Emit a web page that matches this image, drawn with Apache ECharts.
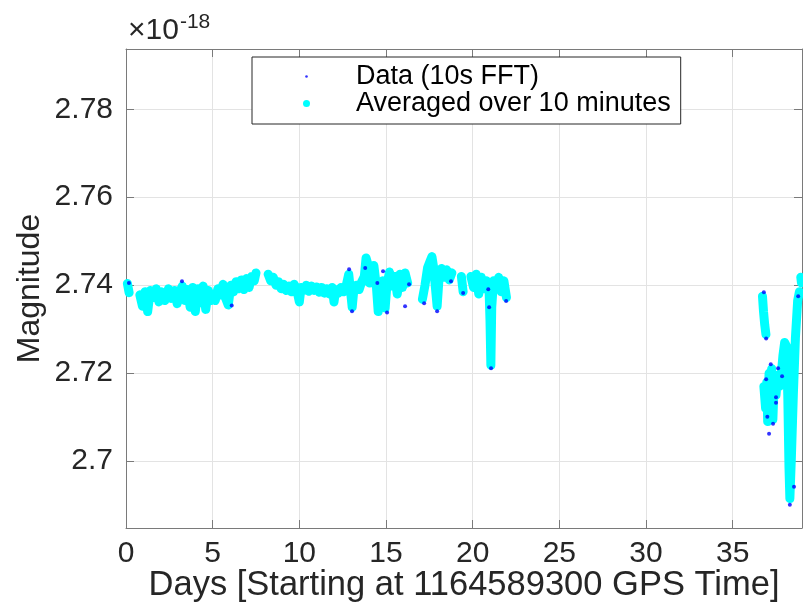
<!DOCTYPE html>
<html>
<head>
<meta charset="utf-8">
<title>Magnitude vs days</title>
<script src="https://cdn.jsdelivr.net/npm/echarts@6/dist/echarts.min.js"></script>
<style>
  html, body { margin: 0; padding: 0; background: #fff; }
  #chart { width: 803px; height: 607px; }
</style>
</head>
<body>
<div id="chart"></div>
<script>
// days since start, magnitude in units of 1e-18 ; null = gap in the record
const avgDays = [
  0.08, 0.18, null,
  0.8, 0.95, 1.1, 1.25, 1.4, 1.6, 1.75, 1.9, 2.05, 2.25, 2.45, 2.6, 2.8, 2.95, 3.1, 3.25, 3.4, 3.55,
  3.7, 3.85, 4.0, 4.15, 4.3, 4.45, 4.6, 4.75, 4.9, null,
  5.15, 5.3, 5.45, 5.6, 5.75, 5.9, 6.05, 6.2, 6.35, 6.5, 6.65, 6.8, 6.95, 7.1, 7.25, 7.4, 7.5, null,
  8.2, 8.35, 8.5, 8.65, 8.8, 8.95, 9.1, 9.25, 9.4, 9.55, 9.7, 9.85, 10.0, 10.1, 10.25, 10.4, 10.55,
  10.7, 10.85, 11.0, 11.15, 11.3, 11.45, 11.6, 11.75, 11.9, 12.0, 12.1, 12.25, 12.4, 12.55, 12.7,
  12.85, 12.95, 13.05, 13.15, 13.3, 13.45, 13.6, 13.75, 13.85, 13.95, 14.05, 14.15, 14.3, 14.45,
  14.55, 14.65, 14.8, 14.95, 15.05, 15.2, 15.35, 15.5, 15.65, 15.8, 15.95, 16.1, 16.25, null,
  17.1, 17.25, 17.4, 17.55, 17.65, 17.75, 17.85, 17.95, 18.05, 18.2, 18.35, 18.5, 18.65, 18.8, null,
  19.35, 19.45, null,
  19.9, 20.05, 20.2, 20.35, 20.5, 20.65, 20.8, 20.95, 21.0, 21.05, 21.1, 21.2, 21.35, 21.5, 21.65,
  21.8, 21.95, null,
  36.72, 36.78, 36.85, 36.92, null,
  36.8, 36.9, 36.97, 37.02, 37.1, 37.17, 37.25, 37.32, 37.4, 37.5, 37.6, 37.7, 37.8, 37.9, 38.0,
  38.1, 38.18, 38.25, 38.3, 38.38, 38.5, 38.62, 38.75, 38.85, null,
  38.93, 38.97
];
const avgMag = [
  2.7404, 2.7383, null,
  2.7378, 2.7352, 2.7385, 2.7340, 2.7388, 2.7372, 2.7392, 2.7362, 2.7385, 2.7365, 2.7392, 2.7370, 2.7388, 2.7358, 2.7385, 2.7398, 2.7365, 2.7390,
  2.7350, 2.7395, 2.7340, 2.7392, 2.7360, 2.7398, 2.7345, 2.7388, 2.7365, null,
  2.7365, 2.7392, 2.7378, 2.7402, 2.7370, 2.7355, 2.7400, 2.7385, 2.7408, 2.7392, 2.7412, 2.7390, 2.7415, 2.7395, 2.7420, 2.7410, 2.7428, null,
  2.7425, 2.7410, 2.7418, 2.7400, 2.7408, 2.7392, 2.7402, 2.7388, 2.7398, 2.7385, 2.7402, 2.7390, 2.7362, 2.7395, 2.7388, 2.7400, 2.7386,
  2.7398, 2.7388, 2.7396, 2.7384, 2.7395, 2.7382, 2.7392, 2.7380, 2.7395, 2.7362, 2.7390, 2.7382, 2.7395, 2.7385, 2.7398,
  2.7425, 2.7388, 2.7350, 2.7392, 2.7400, 2.7390, 2.7408, 2.7420, 2.7462, 2.7448, 2.7405, 2.7430, 2.7445, 2.7395,
  2.7340, 2.7395, 2.7410, 2.7348, 2.7400, 2.7430, 2.7398, 2.7420, 2.7380, 2.7425, 2.7395, 2.7428, 2.7405, null,
  2.7368, 2.7400, 2.7440, 2.7455, 2.7465, 2.7440, 2.7395, 2.7352, 2.7410, 2.7438, 2.7418, 2.7435, 2.7412, 2.7428, null,
  2.7420, 2.7385, null,
  2.7420, 2.7395, 2.7425, 2.7380, 2.7418, 2.7392, 2.7410, 2.7385, 2.7320, 2.7218, 2.7350, 2.7410, 2.7395, 2.7418, 2.7385,
  2.7410, 2.7372, null,
  2.7375, 2.7340, 2.7310, 2.7288, null,
  2.7170, 2.7120, 2.7180, 2.7090, 2.7200, 2.7125, 2.7210, 2.7095, 2.7185, 2.7150, 2.7195, 2.7170, 2.7195, 2.7240, 2.7270,
  2.7262, 2.7150, 2.6985, 2.6915, 2.7000, 2.7150, 2.7280, 2.7365, 2.7385, null,
  2.7418, 2.7405
];

// raw 10 s FFT points that poke out from under the averaged trace
const rawDays = [
  0.17, 3.23, 6.1, 12.87, 13.04, 13.8, 14.5, 14.83, 15.06, 16.1, 16.33, 17.2, 17.95, 18.75,
  19.45, 20.9, 20.95, 21.06, 21.93,
  36.8, 36.93, 37.2, 36.93, 37.62, 37.85, 37.5, 37.5, 37.33, 37.1, 37.0, 38.3, 38.78, 38.54
];
const rawMag = [
  2.7405, 2.7409, 2.7354, 2.7436, 2.7341, 2.7439, 2.7405, 2.7432, 2.7338, 2.7352, 2.7402, 2.7359, 2.7341, 2.7409,
  2.7382, 2.7391, 2.7350, 2.7211, 2.7364,
  2.7384, 2.7279, 2.7220, 2.7186, 2.7211, 2.7193, 2.7145, 2.7133, 2.7085, 2.7062, 2.7101, 2.6901, 2.7375, 2.6942
];

const xTicks = { min: 0, max: 39, interval: 5 };
const yRange = { min: 2.6848, max: 2.7937 };

const avgData = avgDays.map((d, i) => avgMag[i] === null ? ['-', '-'] : [d, avgMag[i]]);
const rawData = rawDays.map((d, i) => [d, rawMag[i]]);

const FONT = '"Liberation Sans", Arial, Helvetica, sans-serif';
const TXT = '#262626';
const AX = '#7a7a7a';
const GRIDC = '#e3e3e3';

// small dot inside a wider invisible box so the legend draws it tiny
const SMALL_DOT = 'path://M0,0M8,8M2.5,4a1.5,1.5 0 1,0 3,0a1.5,1.5 0 1,0 -3,0z';

const chart = echarts.init(document.getElementById('chart'), null, { renderer: 'canvas' });

const option = {
  animation: false,
  backgroundColor: '#ffffff',
  textStyle: { fontFamily: FONT },
  grid: { left: 126, right: 1, top: 49, bottom: 79, containLabel: false, outerBoundsMode: 'none' },
  legend: {
    orient: 'vertical',
    left: 252,
    top: 57,
    padding: [6, 10, 7, 51],
    itemGap: 0,
    itemWidth: 7,
    itemHeight: 7,
    backgroundColor: '#ffffff',
    borderColor: '#262626',
    borderWidth: 1,
    borderRadius: 0,
    textStyle: { fontFamily: FONT, fontSize: 27, color: '#000', lineHeight: 25, padding: [0, 0, 0, 41] },
    data: [
      { name: 'Data (10s FFT)', icon: SMALL_DOT },
      { name: 'Averaged over 10 minutes', icon: 'circle' }
    ]
  },
  xAxis: [{
    type: 'value',
    min: xTicks.min, max: xTicks.max, interval: xTicks.interval,
    name: 'Days [Starting at 1164589300 GPS Time]',
    nameLocation: 'middle',
    nameGap: 40,
    nameMoveOverlap: false,
    nameTextStyle: { fontFamily: FONT, fontSize: 34.5, color: TXT },
    axisLine: { show: true, lineStyle: { color: AX, width: 1 } },
    axisTick: { show: true, inside: true, length: 8, lineStyle: { color: AX } },
    axisLabel: { fontFamily: FONT, fontSize: 30, color: TXT, margin: 11, showMaxLabel: false },
    splitLine: { show: true, lineStyle: { color: GRIDC, width: 1 } }
  }, {
    type: 'value', position: 'top',
    min: xTicks.min, max: xTicks.max, interval: xTicks.interval,
    axisLine: { show: true, onZero: false, lineStyle: { color: AX, width: 1 } },
    axisTick: { show: true, inside: true, length: 8, lineStyle: { color: AX } },
    axisLabel: { show: false },
    splitLine: { show: false }
  }],
  yAxis: [{
    type: 'value',
    min: yRange.min, max: yRange.max, splitNumber: 5,
    name: 'Magnitude',
    nameLocation: 'middle',
    nameGap: 80,
    nameMoveOverlap: false,
    nameTextStyle: { fontFamily: FONT, fontSize: 32, color: TXT },
    axisLine: { show: true, lineStyle: { color: AX, width: 1 } },
    axisTick: { show: true, inside: true, length: 8, lineStyle: { color: AX } },
    axisLabel: { fontFamily: FONT, fontSize: 30, color: TXT, margin: 13, showMinLabel: false, showMaxLabel: false },
    splitLine: { show: true, lineStyle: { color: GRIDC, width: 1 } }
  }, {
    type: 'value', position: 'right',
    min: yRange.min, max: yRange.max, splitNumber: 5,
    axisLine: { show: true, onZero: false, lineStyle: { color: AX, width: 1 } },
    axisTick: { show: true, inside: true, length: 8, lineStyle: { color: AX } },
    axisLabel: { show: false },
    splitLine: { show: false }
  }],
  graphic: [{
    type: 'text',
    left: 128,
    top: 12,
    style: {
      text: '{b|×10}{s|-18}',
      rich: {
        b: { fontFamily: FONT, fontSize: 30, fill: TXT, verticalAlign: 'bottom', lineHeight: 34 },
        s: { fontFamily: FONT, fontSize: 21, fill: TXT, verticalAlign: 'top', lineHeight: 34, padding: [0, 0, 12, 1] }
      }
    }
  }],
  series: [{
    name: 'Averaged over 10 minutes',
    type: 'line',
    data: avgData,
    showSymbol: false,
    connectNulls: false,
    color: '#00ffff',
    lineStyle: { color: '#00ffff', width: 9, cap: 'round', join: 'round' },
    z: 2
  }, {
    name: 'Data (10s FFT)',
    type: 'scatter',
    data: rawData,
    symbolSize: 4,
    color: '#0000ff',
    itemStyle: { color: '#0000ff' },
    z: 3
  }]
};

chart.setOption(option);
</script>
</body>
</html>
